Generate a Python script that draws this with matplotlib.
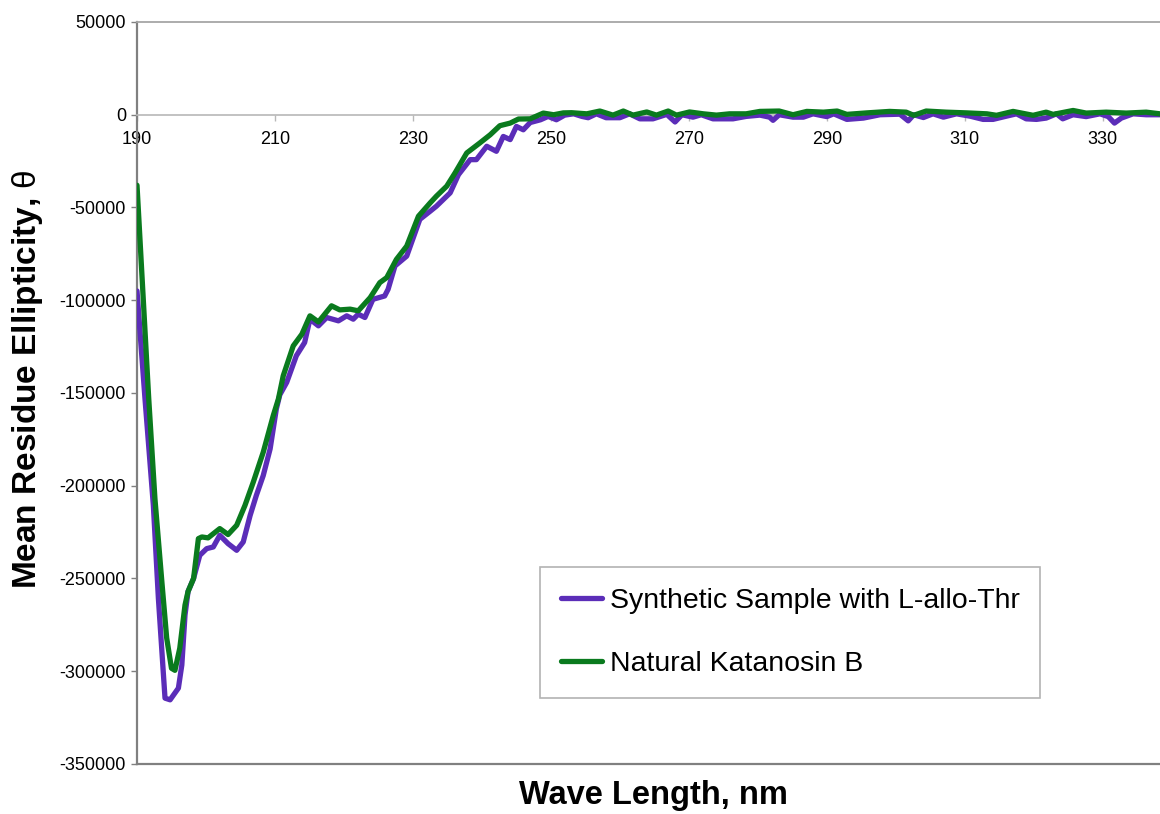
import matplotlib
matplotlib.use("Agg")
import matplotlib.pyplot as plt

# ---- data ----
wl_synthetic = [190.0, 191.16, 192.37, 193.1, 193.8, 194.06, 194.8, 196.0, 196.5, 196.96,
                197.4, 198.2, 199.1, 200.1, 201.06, 202.0, 203.2, 204.45, 205.4, 206.4,
                207.3, 208.3, 209.3, 210.2, 210.7, 211.7, 213.1, 214.3, 215.07, 216.3,
                217.5, 219.2, 220.4, 221.35, 222.07, 223.04, 224.2, 225.9, 226.4, 227.4,
                229.1, 231.0, 232.5, 233.4, 235.4, 236.6, 238.3, 239.2, 240.7, 242.1,
                243.1, 244.1, 245.0, 246.0, 247.0, 248.5, 249.6, 250.8, 252.0, 253.3,
                254.5, 255.4, 256.6, 258.0, 260.0, 261.4, 262.9, 264.8, 266.8, 268.0,
                269.0, 270.6, 271.8, 273.5, 276.4, 278.3, 280.3, 281.7, 282.2, 283.1,
                285.1, 286.6, 288.0, 290.0, 291.0, 292.9, 295.3, 297.7, 300.6, 301.8,
                302.6, 304.0, 305.4, 306.9, 308.8, 310.8, 312.65, 314.1, 316.0, 317.5,
                318.9, 320.4, 321.8, 323.3, 324.2, 325.7, 327.6, 329.6, 330.8, 331.7,
                332.7, 334.4, 336.3, 338.3, 340.0]
synthetic = [-95000, -153200, -210600, -260700, -300000, -314500, -315400, -309100, -296600, -269700,
             -257000, -250000, -237500, -233900, -233000, -226700, -231200, -234800, -230300, -216000,
             -205200, -194500, -180100, -158600, -151000, -144300, -129900, -122800, -110200, -113800,
             -109300, -111100, -108400, -110200, -107500, -109300, -99500, -97700, -94100, -81500,
             -76200, -56400, -52000, -49300, -42100, -32300, -24200, -24200, -17000, -19700,
             -11700, -13400, -6300, -8100, -4200, -2700, -900, -2700, -200, 500,
             -900, -1600, 500, -1600, -1600, 500, -2200, -2200, 200, -3900,
             0, -1300, 0, -2200, -2200, -900, -200, -1300, -3000, 0,
             -1300, -1300, 500, -1000, 500, -2500, -1800, 0, 300, -3300,
             0, -1500, 500, -1300, 500, -800, -2500, -2500, -800, 500,
             -2200, -2500, -1800, 500, -2200, 0, -1000, 500, -1000, -4500,
             -1800, 500, 0, 0, 0]

wl_natural = [190.0, 191.7, 192.6, 193.6, 194.3, 195.0, 195.5, 196.2, 196.96, 197.4,
              198.2, 198.9, 199.4, 200.3, 202.0, 203.2, 204.45, 205.65, 206.86, 208.3,
              209.75, 210.5, 211.2, 212.65, 213.9, 215.07, 216.3, 218.2, 219.4, 220.9,
              222.07, 223.8, 225.2, 226.2, 227.6, 229.1, 230.8, 232.5, 233.4, 234.9,
              236.1, 237.8, 239.7, 241.2, 242.6, 244.1, 245.3, 247.0, 248.9, 250.4,
              251.8, 253.0, 255.2, 257.1, 259.0, 260.5, 261.9, 263.9, 265.3, 267.0,
              268.2, 270.1, 272.1, 274.0, 275.9, 278.3, 280.3, 283.1, 285.1, 287.1,
              289.5, 291.5, 292.9, 295.8, 299.1, 301.5, 302.6, 304.4, 307.3, 310.3,
              313.2, 314.6, 317.0, 319.9, 321.8, 322.8, 325.7, 327.6, 330.5, 333.4,
              336.3, 338.3, 340.0]
natural = [-38000, -153000, -207000, -251600, -282000, -298400, -299500, -287600, -264300, -257000,
           -250000, -228500, -227600, -228100, -223100, -226300, -221300, -210600, -198000, -181900,
           -162200, -153200, -140700, -124600, -118300, -108400, -111700, -103000, -105200, -104800,
           -105700, -98600, -90500, -87800, -78000, -70800, -54700, -47500, -43900, -38500,
           -31400, -20600, -15200, -10800, -5900, -4500, -2300, -2200, 900, 0,
           1000, 1100, 500, 2000, -200, 2000, -200, 1500, -200, 2000,
           -200, 1500, 500, -200, 500, 500, 1800, 2000, 0, 1800,
           1400, 2000, 200, 1000, 1800, 1400, -300, 2000, 1400, 1000,
           500, -300, 1800, -300, 1400, 200, 2300, 900, 1400, 900,
           1400, 500, 500]

series_labels = ["Synthetic Sample with L-allo-Thr", "Natural Katanosin B"]
x_ticks = [190, 210, 230, 250, 270, 290, 310, 330]
y_ticks = [50000, 0, -50000, -100000, -150000, -200000, -250000, -300000, -350000]

# ---- figure ----
plt.rcParams['font.family'] = ['Liberation Sans', 'DejaVu Sans']
plt.rcParams['mathtext.fontset'] = 'custom'
plt.rcParams['mathtext.rm'] = 'Liberation Sans'
plt.rcParams['mathtext.it'] = 'Liberation Sans'
plt.rcParams['mathtext.default'] = 'rm'

fig = plt.figure(figsize=(11.6, 8.14), dpi=100)
ax = fig.add_axes([137/1160, 1 - 764/814, 1 - 137/1160, (764 - 22)/814])

purple = "#5B2DB8"
green = "#0A7A1E"
ax.plot(wl_synthetic, synthetic, color=purple, lw=3.8, solid_joinstyle='round',
        solid_capstyle='round', label=series_labels[0], zorder=3)
ax.plot(wl_natural, natural, color=green, lw=3.8, solid_joinstyle='round',
        solid_capstyle='round', label=series_labels[1], zorder=4)

ax.set_xlim(190, 338.3)
ax.set_ylim(-350000, 50000)
ax.set_xticks(x_ticks)
ax.set_xticklabels([str(t) for t in x_ticks])
ax.set_yticks(y_ticks)
ax.set_yticklabels([str(t) for t in y_ticks])

# spines
ax.spines['right'].set_visible(False)
ax.spines['top'].set_color('#a6a6a6')
ax.spines['top'].set_linewidth(1.3)
ax.spines['left'].set_color('#808080')
ax.spines['left'].set_linewidth(1.6)
ax.spines['bottom'].set_position(('data', 0))
ax.spines['bottom'].set_color('#b8b8b8')
ax.spines['bottom'].set_linewidth(1.2)
ax.axhline(-350000, color='#808080', lw=1.6, clip_on=False, zorder=5)

ax.tick_params(axis='y', direction='out', length=4, width=1, color='#808080',
               labelsize=13, pad=4)
ax.tick_params(axis='x', direction='out', length=4, width=1, color='#b8b8b8',
               labelsize=13, pad=8)

ax.set_xlabel("Wave Length, nm", fontsize=23.5, fontweight='bold', va='center')
ax.xaxis.set_label_coords(0.505, -0.042)
ax.set_ylabel("Mean Residue Ellipticity, $\\mathrm{\\theta}$", fontsize=24,
              fontweight='bold', va='center')
ax.yaxis.set_label_coords(-0.107, 0.518)

leg = ax.legend(loc='lower left', bbox_to_anchor=(0.394, 0.089), borderaxespad=0,
                fontsize=20.5, frameon=True, fancybox=False, shadow=False,
                handlelength=1.45, handletextpad=0.28, labelspacing=1.33,
                borderpad=0.72)
leg.get_frame().set_edgecolor('#a0a0a0')
leg.get_frame().set_linewidth(1.2)
for h in leg.get_lines():
    h.set_linewidth(3.8)

fig.savefig("out.png", dpi=100)
